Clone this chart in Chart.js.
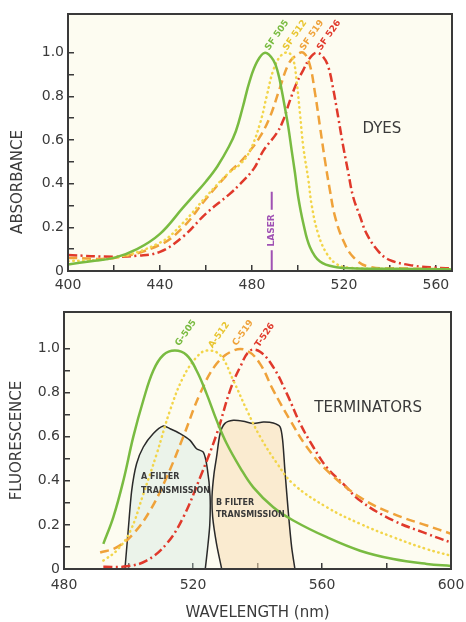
<!DOCTYPE html>
<html>
<head>
<meta charset="utf-8">
<script src="https://cdn.jsdelivr.net/npm/chart.js@4"></script>
<style>
  html, body { margin: 0; padding: 0; background: #fff; }
  #wrap { position: relative; width: 466px; height: 622px; }
  #topBox { position: absolute; left: 0; top: 0; }
  #botBox { position: absolute; left: 0; top: 300px; }
</style>
</head>
<body>
<div id="wrap">
  <div id="topBox"><canvas id="dyeChart" width="466" height="300"></canvas></div>
  <div id="botBox"><canvas id="termChart" width="466" height="322"></canvas></div>
</div>
<script>
// ---- absorbance (dyes) ----
const sf505Nm = [400, 410, 420, 430, 440, 450, 455, 460, 465, 470, 473, 476, 479, 482.3, 485.7, 489.3, 491.4, 492.9, 494.3, 495.8, 497.3, 498.7, 500.1, 502.3, 505.2, 509.6, 516.8, 525, 540, 560, 567];
const sf505 = [0.03, 0.045, 0.06, 0.10, 0.17, 0.29, 0.35, 0.41, 0.48, 0.57, 0.64, 0.75, 0.87, 0.96, 1.0, 0.966, 0.905, 0.83, 0.75, 0.66, 0.55, 0.45, 0.34, 0.22, 0.11, 0.043, 0.017, 0.012, 0.01, 0.008, 0.007];

const sf512Nm = [400, 420, 440, 450, 460, 470, 475, 479.1, 483.5, 486.4, 489.3, 492.5, 495.8, 498, 499.4, 500.9, 502.3, 504.5, 506, 508.8, 512.5, 516.8, 522, 540, 567];
const sf512 = [0.045, 0.06, 0.13, 0.22, 0.34, 0.45, 0.49, 0.55, 0.675, 0.80, 0.92, 0.985, 1.0, 0.966, 0.87, 0.72, 0.57, 0.42, 0.30, 0.17, 0.08, 0.032, 0.015, 0.01, 0.006];

const sf519Nm = [400, 420, 440, 450, 460, 470, 475, 479.1, 483.5, 487.8, 492.2, 496, 499.5, 502.3, 505, 507.5, 509.6, 511.7, 513.9, 516.1, 519.7, 524, 530.6, 545, 567];
const sf519 = [0.06, 0.06, 0.12, 0.2, 0.33, 0.45, 0.5, 0.55, 0.615, 0.705, 0.84, 0.95, 0.99, 1.0, 0.95, 0.81, 0.66, 0.51, 0.37, 0.25, 0.14, 0.065, 0.02, 0.012, 0.008];

const sf526Nm = [400, 420, 430, 440, 450, 460, 470, 475, 480.9, 484.9, 490.7, 493.6, 496.5, 499.4, 502.3, 505.2, 508.1, 511, 513.2, 515.4, 517.5, 519.7, 521.9, 524, 527, 529.9, 535, 540, 550, 560, 567];
const sf526 = [0.073, 0.065, 0.07, 0.088, 0.157, 0.263, 0.35, 0.40, 0.47, 0.55, 0.63, 0.69, 0.78, 0.86, 0.92, 0.975, 1.0, 0.98, 0.935, 0.83, 0.705, 0.57, 0.45, 0.34, 0.25, 0.17, 0.09, 0.05, 0.025, 0.015, 0.012];

const laserNm = 488.6;
const laserTop = [0.363, 0.28];
const laserBottom = [0.095, 0];

// ---- fluorescence (terminators) ----
const g505Nm = [492.2, 495.3, 498.4, 501.5, 504.6, 507.7, 510.8, 514.4, 518, 521.1, 524.2, 527.3, 530.4, 534.6, 538.7, 544.9, 551.1, 561.5, 571.8, 582.1, 592.5, 600];
const g505 = [0.114, 0.235, 0.40, 0.60, 0.765, 0.90, 0.97, 0.99, 0.97, 0.90, 0.795, 0.675, 0.57, 0.46, 0.37, 0.28, 0.22, 0.144, 0.083, 0.045, 0.023, 0.014];

const a512Nm = [492.2, 496.3, 500.5, 504.6, 508.7, 512.9, 517, 521.1, 524.2, 528.4, 532.5, 536.7, 540.8, 546, 551.1, 561.5, 571.8, 582.1, 592.5, 600];
const a512 = [0.038, 0.083, 0.17, 0.34, 0.52, 0.72, 0.87, 0.96, 0.99, 0.97, 0.855, 0.72, 0.60, 0.48, 0.385, 0.28, 0.205, 0.144, 0.09, 0.06];

const c519Nm = [491.2, 496.3, 501.5, 506.7, 511.8, 517, 522.2, 527.3, 532.5, 536.7, 540.8, 544.9, 550.1, 555.3, 561.5, 571.8, 582.1, 592.5, 600];
const c519 = [0.075, 0.098, 0.16, 0.265, 0.415, 0.60, 0.795, 0.93, 0.99, 0.99, 0.93, 0.81, 0.675, 0.553, 0.447, 0.325, 0.25, 0.197, 0.16];

const t526Nm = [492.2, 499.4, 505.6, 511.8, 517, 522.2, 527.3, 531.5, 534.6, 537.7, 540.8, 544.9, 549.1, 553.2, 557.3, 561.5, 566.6, 571.8, 582.1, 592.5, 600];
const t526 = [0.01, 0.012, 0.038, 0.114, 0.235, 0.415, 0.61, 0.81, 0.915, 0.99, 0.985, 0.915, 0.795, 0.66, 0.553, 0.46, 0.386, 0.31, 0.22, 0.16, 0.12];

const filterANm = [498.9, 499.9, 501, 502.5, 504.6, 507.7, 510.8, 512.9, 516, 519.1, 521.1, 523.2, 524.4, 525.3, 525.2, 524.5, 523.8];
const filterA = [0, 0.174, 0.356, 0.477, 0.553, 0.614, 0.648, 0.636, 0.614, 0.583, 0.545, 0.53, 0.46, 0.33, 0.2, 0.09, 0];

const filterBNm = [528.9, 527.3, 526.1, 525.9, 526.5, 527.3, 528.4, 529.9, 532.5, 535.6, 538.7, 541.8, 544.9, 547, 547.8, 548.5, 549.6, 550.6, 551.6];
const filterB = [0, 0.114, 0.235, 0.33, 0.43, 0.507, 0.614, 0.66, 0.674, 0.67, 0.66, 0.666, 0.662, 0.644, 0.583, 0.447, 0.25, 0.098, 0];

const GREEN = '#79bb41', YELLOW = '#f2d54a', ORANGE = '#efa23a', RED = '#e0392b', INK = '#3a3a3a', PURPLE = '#a052b4';

Chart.defaults.font.family = "'DejaVu Sans', sans-serif";
Chart.defaults.color = INK;

function pts(xs, ys) {
    return xs.map((x, i) => ({ x: x, y: ys[i] }));
}

const styles = {
    solid: { borderDash: [] },
    dotted: { borderDash: [0.5, 4.5], borderCapStyle: 'round' },
    dashed: { borderDash: [9, 5] },
    dashDot: { borderDash: [9, 3.5, 2, 3.5] }
};

function curve(xs, ys, color, style) {
    return Object.assign({
        data: pts(xs, ys),
        borderColor: color,
        borderWidth: 2.5,
        pointRadius: 0,
        tension: 0.4,
        fill: false,
        order: 1
    }, styles[style]);
}

function filter(xs, ys, fillColor) {
    return {
        data: pts(xs, ys),
        borderColor: '#2a2a2a',
        borderWidth: 1.5,
        pointRadius: 0,
        tension: 0.25,
        fill: 'shape',
        backgroundColor: fillColor,
        order: 5
    };
}

// background, frame and text notes
const notesPlugin = {
    id: 'notes',
    beforeDraw(chart, args, opts) {
        const { ctx, chartArea: a } = chart;
        ctx.save();
        ctx.fillStyle = '#fdfcf1';
        ctx.fillRect(a.left, a.top, a.right - a.left, a.bottom - a.top);
        ctx.restore();
    },
    afterDatasetsDraw(chart, args, opts) {
        const { ctx, chartArea: a, scales } = chart;
        ctx.save();
        ctx.strokeStyle = INK;
        ctx.lineWidth = 2;
        ctx.strokeRect(a.left, a.top, a.right - a.left, a.bottom - a.top);
        (opts.items || []).forEach(n => {
            const px = n.px ? n.px[0] : scales.x.getPixelForValue(n.x);
            const py = n.px ? n.px[1] : scales.y.getPixelForValue(n.y);
            ctx.save();
            ctx.translate(px, py);
            ctx.rotate((n.rot || 0) * Math.PI / 180);
            ctx.font = n.font;
            ctx.fillStyle = n.color || INK;
            ctx.textAlign = n.align || 'center';
            ctx.textBaseline = 'middle';
            ctx.fillText(n.text, 0, 0);
            ctx.restore();
        });
        ctx.restore();
    }
};

function xAxis(min, max, height, pad, title) {
    return {
        type: 'linear',
        min: min,
        max: max,
        border: { display: false },
        grid: { drawOnChartArea: false, drawTicks: true, tickLength: -6, color: INK, lineWidth: 1.5 },
        ticks: {
            stepSize: 20,
            includeBounds: false,
            autoSkip: false,
            maxRotation: 0,
            padding: pad,
            font: { size: 14 },
            color: INK,
            callback: v => (v % 40 === 0 ? String(v) : '')
        },
        title: title ? { display: true, text: title, font: { size: 15 }, color: INK, padding: { top: 0, bottom: 0 } } : { display: false },
        afterFit: s => { s.height = height; s.paddingLeft = 0; s.paddingRight = 0; }
    };
}

function yAxis(max, width, title) {
    return {
        min: 0,
        max: max,
        border: { display: false },
        grid: {
            drawOnChartArea: false, drawTicks: true, tickLength: -6, lineWidth: 1.5,
            color: c => (c.tick && c.tick.value > 1.05 ? 'rgba(0,0,0,0)' : INK)
        },
        ticks: {
            stepSize: 0.1,
            includeBounds: false,
            autoSkip: false,
            padding: 10,
            font: { size: 14 },
            color: INK,
            callback: v => {
                const k = Math.round(v * 10);
                if (k % 2 !== 0 || k > 10) return '';
                return k === 0 ? '0' : (k / 10).toFixed(1);
            }
        },
        title: title ? { display: true, text: title, font: { size: 15 }, color: INK, padding: { top: 8, bottom: 0 } } : { display: false },
        afterFit: s => { s.width = width; s.paddingTop = 0; s.paddingBottom = 0; }
    };
}

const tagFont = "bold 9px 'DejaVu Sans'";
const boxFont = "bold 8px 'DejaVu Sans'";

new Chart(document.getElementById('dyeChart'), {
    type: 'line',
    data: {
        datasets: [
            curve(sf505Nm, sf505, GREEN, 'solid'),
            curve(sf512Nm, sf512, YELLOW, 'dotted'),
            curve(sf519Nm, sf519, ORANGE, 'dashed'),
            curve(sf526Nm, sf526, RED, 'dashDot'),
            { data: pts([laserNm, laserNm], laserTop), borderColor: PURPLE, borderWidth: 2, pointRadius: 0, order: 0 },
            { data: pts([laserNm, laserNm], laserBottom), borderColor: PURPLE, borderWidth: 2, pointRadius: 0, order: 0 }
        ]
    },
    options: {
        responsive: false,
        animation: false,
        layout: { padding: { left: 0, right: 14, top: 14, bottom: 0 } },
        scales: {
            x: xAxis(400, 567, 29, 12, null),
            y: yAxis(1.177, 68, null)
        },
        plugins: {
            legend: { display: false },
            tooltip: { enabled: false },
            notes: {
                items: [
                    { text: 'ABSORBANCE', px: [18, 182], rot: -90, font: "15px 'DejaVu Sans'" },
                    { text: 'DYES', x: 536.5, y: 0.65, font: "15px 'DejaVu Sans'" },
                    { text: 'LASER', x: laserNm, y: 0.186, rot: -90, color: PURPLE, font: "bold 9px 'DejaVu Sans'" },
                    { text: 'SF 505', x: 490.9, y: 1.08, rot: -55, color: GREEN, font: tagFont },
                    { text: 'SF 512', x: 498.7, y: 1.08, rot: -55, color: '#e8c530', font: tagFont },
                    { text: 'SF 519', x: 506.1, y: 1.08, rot: -55, color: ORANGE, font: tagFont },
                    { text: 'SF 526', x: 513.5, y: 1.08, rot: -55, color: RED, font: tagFont }
                ]
            }
        }
    },
    plugins: [notesPlugin]
});

new Chart(document.getElementById('termChart'), {
    type: 'line',
    data: {
        datasets: [
            curve(g505Nm, g505, GREEN, 'solid'),
            curve(a512Nm, a512, YELLOW, 'dotted'),
            curve(c519Nm, c519, ORANGE, 'dashed'),
            curve(t526Nm, t526, RED, 'dashDot'),
            filter(filterANm, filterA, 'rgba(200,225,222,0.35)'),
            filter(filterBNm, filterB, 'rgba(248,220,180,0.55)')
        ]
    },
    options: {
        responsive: false,
        animation: false,
        layout: { padding: { left: 0, right: 15, top: 12, bottom: 0 } },
        scales: {
            x: xAxis(480, 600, 53, 14, 'WAVELENGTH (nm)'),
            y: yAxis(1.165, 64, 'FLUORESCENCE')
        },
        plugins: {
            legend: { display: false },
            tooltip: { enabled: false },
            notes: {
                items: [
                    { text: 'TERMINATORS', x: 574.3, y: 0.73, font: "15px 'DejaVu Sans'" },
                    { text: 'A FILTER', x: 503.9, y: 0.416, align: 'left', font: boxFont },
                    { text: 'TRANSMISSION', x: 503.9, y: 0.353, align: 'left', font: boxFont },
                    { text: 'B FILTER', x: 527.1, y: 0.30, align: 'left', font: boxFont },
                    { text: 'TRANSMISSION', x: 527.1, y: 0.245, align: 'left', font: boxFont },
                    { text: 'G-505', x: 517.8, y: 1.07, rot: -55, color: GREEN, font: tagFont },
                    { text: 'A-512', x: 528.1, y: 1.06, rot: -55, color: '#e8c530', font: tagFont },
                    { text: 'C-519', x: 535.5, y: 1.07, rot: -55, color: ORANGE, font: tagFont },
                    { text: 'T-526', x: 542.3, y: 1.06, rot: -55, color: RED, font: tagFont }
                ]
            }
        }
    },
    plugins: [notesPlugin]
});
</script>
</body>
</html>
